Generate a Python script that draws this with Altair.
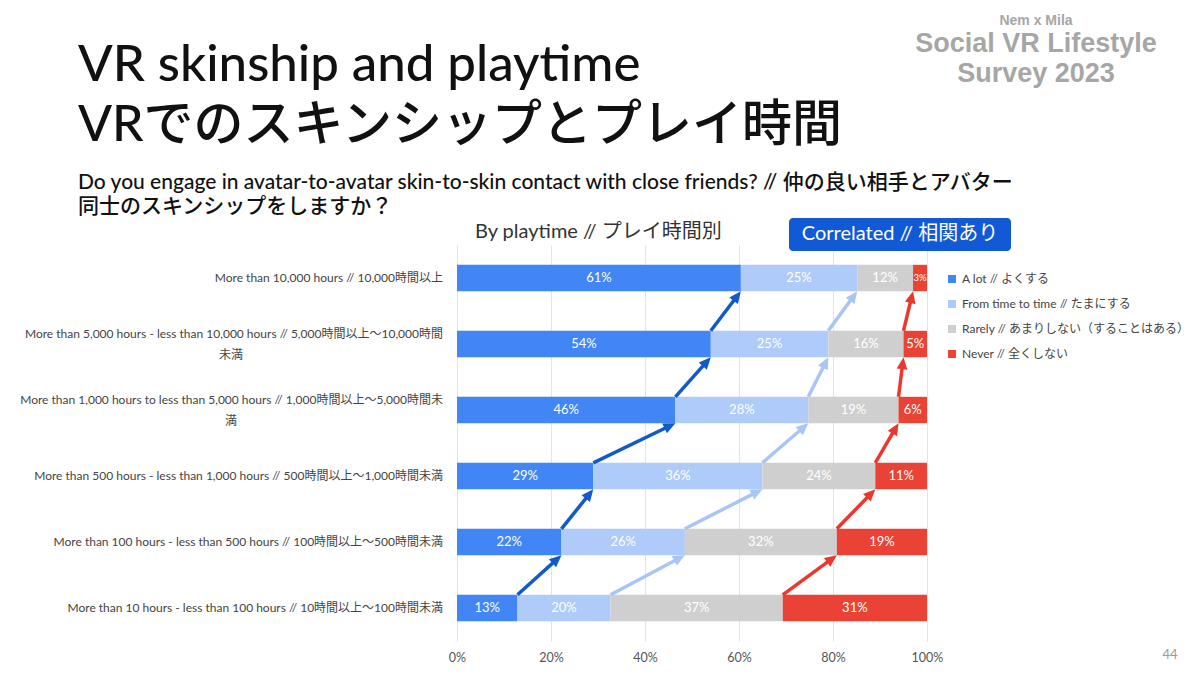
import math
import altair as alt
import pandas as pd

# ---------------- data ----------------
label_line1 = [
    "More than 10,000 hours // 10,000時間以上",
    "More than 5,000 hours - less than 10,000 hours // 5,000時間以上〜10,000時間",
    "More than 1,000 hours to less than 5,000 hours // 1,000時間以上〜5,000時間未",
    "More than 500 hours - less than 1,000 hours // 500時間以上〜1,000時間未満",
    "More than 100 hours - less than 500 hours // 100時間以上〜500時間未満",
    "More than 10 hours - less than 100 hours // 10時間以上〜100時間未満",
]
label_line2 = ["", "未満", "満", "", "", ""]

series_names = [
    "A lot // よくする",
    "From time to time // たまにする",
    "Rarely // あまりしない（することはある）",
    "Never // 全くしない",
]
a_lot = [61, 54, 46, 29, 22, 13]
sometimes = [25, 25, 28, 36, 26, 20]
rarely = [12, 16, 19, 24, 32, 37]
never = [3, 5, 6, 11, 19, 31]

x_ticks = [0, 20, 40, 60, 80, 100]

# ---------------- styles ----------------
FONT = "Lato, 'Noto Sans CJK JP', sans-serif"
LOGO_FONT = "'Liberation Sans', Arial, sans-serif"
bar_colors = ["#4285f4", "#aecbfa", "#cfcfcf", "#ea4335"]
arrow_colors = ["#1259c9", "#a9c5f5", "#e8392f"]

W = 470
H = 396
N = len(label_line1)
STEP = H / N
HALF = 0.2  # half bar thickness in row units

# ---------------- tables ----------------
bar_rows = []
cum = {}
for i in range(N):
    r = N - 1 - i
    vals = [a_lot[i], sometimes[i], rarely[i], never[i]]
    tot = sum(vals)
    c = 0
    bounds = []
    for k, v in enumerate(vals):
        x0 = c / tot * 100
        c += v
        x1 = c / tot * 100
        bounds.append(x1)
        bar_rows.append(dict(r=r, series=series_names[k], v=v, x0=x0, x1=x1,
                             xm=(x0 + x1) / 2, label=f"{v}%",
                             fs=9.5 if v < 5 else 13))
    cum[r] = bounds
bars = pd.DataFrame(bar_rows)

arrow_rows = []
for k in range(3):
    for r in range(N - 1):
        xs = cum[r][k]
        xe = cum[r + 1][k]
        ys = r + HALF
        ye = r + 1 - HALF
        dxp = (xe - xs) / 100 * W
        dyp = (ye - ys) * STEP
        L = math.hypot(dxp, dyp)
        ux, uy = dxp / L, dyp / L
        ang = math.degrees(math.atan2(dxp, dyp)) % 360
        arrow_rows.append(dict(k=k, xs=xs, ys=ys, xe=xe, ye=ye,
                               xse=xe - ux * 7 / W * 100,
                               yse=ye - uy * 7 / STEP, ang=ang))
arrows = pd.DataFrame(arrow_rows)

labels = pd.DataFrame({
    "r": [N - 1 - i for i in range(N)],
    "line1": label_line1,
    "line2": label_line2,
    "n": [2 if s else 1 for s in label_line2],
})

# ---------------- chart ----------------
xscale = alt.Scale(domain=[0, 100], nice=False)
yscale = alt.Scale(domain=[-0.5, N - 0.5], nice=False, zero=False)

bar_layer = alt.Chart(bars).transform_calculate(
    y0="datum.r - 0.2", y1="datum.r + 0.2"
).mark_bar(strokeWidth=0).encode(
    x=alt.X("x0:Q", scale=xscale,
            axis=alt.Axis(values=x_ticks, labelExpr="datum.value + '%'",
                          grid=True, gridColor="#e3e3e3", domain=False,
                          ticks=False, title=None, labelPadding=10,
                          labelFontSize=12.5, labelColor="#555555",
                          labelFont=FONT, labelFlush=False)),
    x2="x1:Q",
    y=alt.Y("y0:Q", scale=yscale, axis=None),
    y2="y1:Q",
    color=alt.Color("series:N",
                    scale=alt.Scale(domain=series_names, range=bar_colors),
                    legend=alt.Legend(orient="none", legendX=489, legendY=28,
                                      title=None, symbolType="square",
                                      symbolSize=64, symbolStrokeWidth=0,
                                      labelFontSize=12, labelColor="#444444",
                                      labelFont=FONT, labelOffset=4,
                                      rowPadding=13, padding=0,
                                      labelLimit=400)),
)

bar_text = alt.Chart(bars).mark_text(color="white", baseline="middle",
                                     font=FONT).encode(
    x="xm:Q",
    y="r:Q",
    text="label:N",
    size=alt.Size("fs:Q", scale=None, legend=None),
)

HEAD = "M0,0L0.45,1L-0.45,1Z"
arrow_layers = []
for k in range(3):
    src = alt.Chart(arrows).transform_filter(f"datum.k == {k}")
    arrow_layers.append(src.mark_rule(strokeWidth=3.5, color=arrow_colors[k]).encode(
        x="xs:Q", x2="xse:Q", y="ys:Q", y2="yse:Q"))
    arrow_layers.append(src.mark_point(shape=HEAD, filled=True, size=576,
                                       opacity=1, strokeWidth=0,
                                       color=arrow_colors[k]).encode(
        x="xe:Q", y="ye:Q", angle=alt.Angle("ang:Q", scale=None)))

LAB_SIZE = 12
lab_single = alt.Chart(labels).transform_filter("datum.n == 1").mark_text(
    align="right", baseline="middle", fontSize=LAB_SIZE, color="#444444", font=FONT
).encode(x=alt.value(-14), y="r:Q", text="line1:N")
lab_two_a = alt.Chart(labels).transform_filter("datum.n == 2").mark_text(
    align="right", baseline="middle", fontSize=LAB_SIZE, color="#444444", font=FONT,
    dy=-10.5
).encode(x=alt.value(-14), y="r:Q", text="line1:N")
lab_two_b = alt.Chart(labels).transform_filter("datum.n == 2").mark_text(
    align="center", baseline="middle", fontSize=LAB_SIZE, color="#444444", font=FONT,
    dy=10.5
).encode(x=alt.value(-226), y="r:Q", text="line2:N")


def txt(s, x, y, size, color, font=FONT, weight="normal", align="left",
        baseline="alphabetic"):
    return alt.Chart(pd.DataFrame({"t": [s]})).mark_text(
        align=align, baseline=baseline, fontSize=size, color=color,
        font=font, fontWeight=weight
    ).encode(x=alt.value(x), y=alt.value(y), text="t:N")


badge = alt.Chart(pd.DataFrame({"a": [0]})).mark_rect(
    color="#1259d6", cornerRadius=4
).encode(x=alt.value(332), x2=alt.value(554), y=alt.value(-27), y2=alt.value(6))

annotations = [
    txt("VR skinship and playtime", -379, -164, 51, "#111111", weight=500),
    txt("VRでのスキンシップとプレイ時間", -379, -104, 50, "#111111", weight=500),
    txt("Do you engage in avatar-to-avatar skin-to-skin contact with close friends? // 仲の良い相手とアバター",
        -379, -56, 21, "#111111", weight=500),
    txt("同士のスキンシップをしますか？", -379, -32, 21, "#111111", weight=500),
    txt("By playtime // プレイ時間別", 18, -13, 20, "#333333", baseline="middle"),
    badge,
    txt("Correlated // 相関あり", 443, -11, 20, "white", align="center",
        baseline="middle"),
    txt("Nem x Mila", 579, -220, 14, "#a6a6a6", font=LOGO_FONT, weight="bold",
        align="center"),
    txt("Social VR Lifestyle", 579, -193, 27, "#a6a6a6", font=LOGO_FONT,
        weight="bold", align="center"),
    txt("Survey 2023", 579, -163, 27, "#a6a6a6", font=LOGO_FONT, weight="bold",
        align="center"),
    txt("44", 713, 410, 13, "#999999", align="center", baseline="middle"),
]

chart = alt.layer(
    bar_layer, bar_text, *arrow_layers, lab_single, lab_two_a, lab_two_b,
    *annotations
).properties(
    width=W, height=H,
    padding={"left": 449, "top": 237, "right": 265, "bottom": 26},
    autosize=alt.AutoSizeParams(type="none"),
    background="white",
).configure_view(stroke=None)

chart.save("out.html", embed_options={"renderer": "svg", "actions": False})
